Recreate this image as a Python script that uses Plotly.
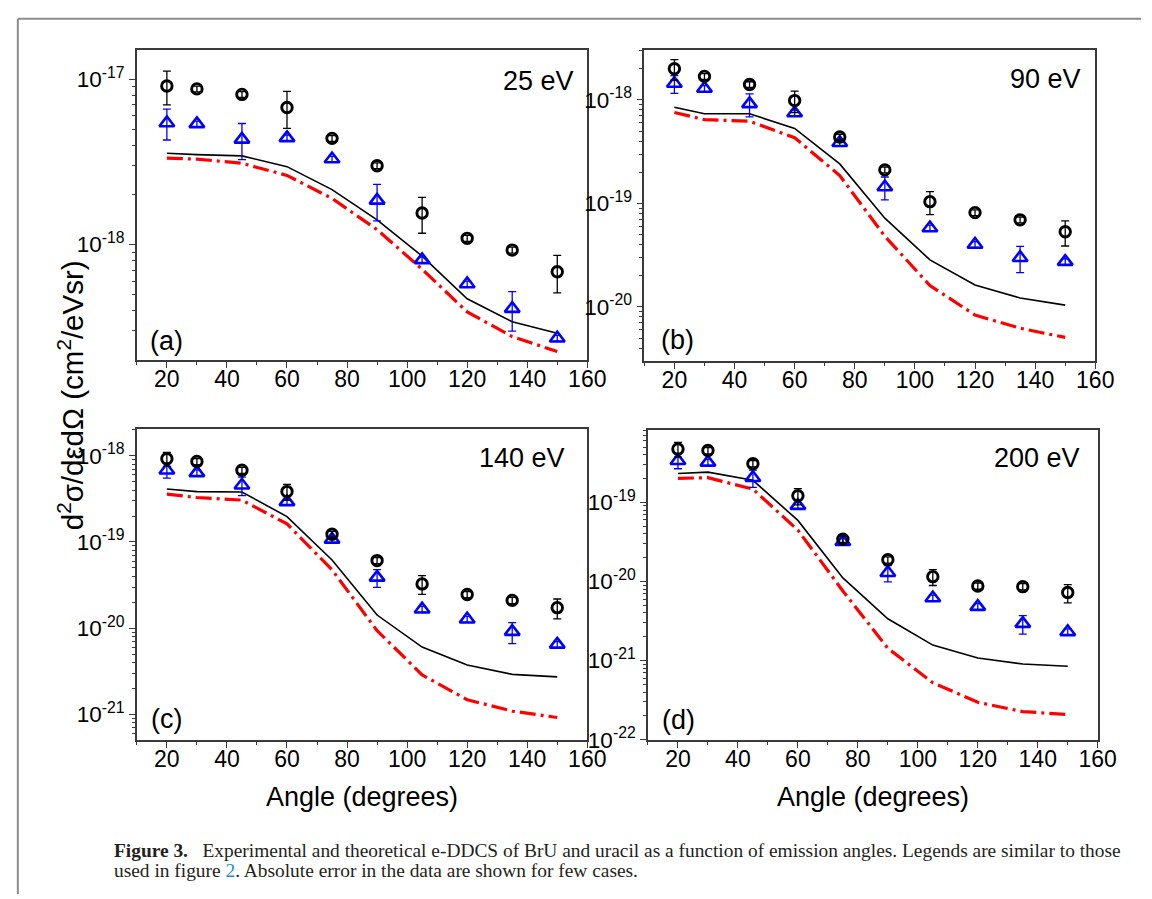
import numpy as np
import plotly.graph_objects as go

# ---------------- data ----------------
angles = [20, 30, 45, 60, 75, 90, 105, 120, 135, 150]
energies = ["25 eV", "90 eV", "140 eV", "200 eV"]
panel_tags = ["(a)", "(b)", "(c)", "(d)"]

# experiment, BrU (open circles) and uracil (open triangles), cm^2/eV sr
circ_25 = [9.1e-18, 8.75e-18, 8.1e-18, 6.75e-18, 4.39e-18, 3.0e-18, 1.55e-18, 1.09e-18, 9.25e-19, 6.84e-19]
circ_25_err = [2.1e-18, 3.5e-19, 3.3e-19, 1.7e-18, 1.8e-19, 1.2e-19, 3.8e-19, 4.5e-20, 3.8e-20, 1.75e-19]
tri_25 = [5.44e-18, 5.37e-18, 4.33e-18, 4.42e-18, 3.29e-18, 1.85e-18, 8.07e-19, 5.77e-19, 4.09e-19, 2.71e-19]
tri_25_err = [1.15e-18, 2.2e-19, 1.07e-18, 1.8e-19, 1.3e-19, 4.6e-19, 3.3e-20, 2.3e-20, 1.1e-19, 1.1e-20]

circ_90 = [2.0e-18, 1.69e-18, 1.41e-18, 9.86e-19, 4.38e-19, 2.11e-19, 1.04e-19, 8.15e-20, 6.94e-20, 5.33e-20]
circ_90_err = [4.5e-19, 1.1e-19, 9e-20, 2.3e-19, 2.8e-20, 1.4e-20, 2.6e-20, 5.3e-21, 4.5e-21, 1.45e-20]
tri_90 = [1.44e-18, 1.29e-18, 9.16e-19, 7.47e-19, 3.86e-19, 1.44e-19, 5.78e-20, 4.01e-20, 2.99e-20, 2.74e-20]
tri_90_err = [2.8e-19, 8.4e-20, 2.3e-19, 4.9e-20, 2.5e-20, 3.6e-20, 3.8e-21, 2.6e-21, 8.5e-21, 1.8e-21]

circ_140 = [9.24e-19, 8.6e-19, 6.79e-19, 3.84e-19, 1.23e-19, 6.08e-20, 3.26e-20, 2.46e-20, 2.1e-20, 1.73e-20]
circ_140_err = [1.7e-19, 6.9e-20, 5.4e-20, 8e-20, 9.8e-21, 4.9e-21, 8e-21, 2e-21, 1.7e-21, 4.5e-21]
tri_140 = [6.79e-19, 6.33e-19, 4.54e-19, 2.92e-19, 1.07e-19, 3.88e-20, 1.66e-20, 1.27e-20, 9.12e-21, 6.48e-21]
tri_140_err = [1.3e-19, 5.1e-20, 1.1e-19, 2.3e-20, 8.6e-21, 9e-21, 1.3e-21, 1e-21, 2.5e-21, 5.2e-22]

circ_200 = [4.73e-19, 4.52e-19, 3.08e-19, 1.21e-19, 3.43e-20, 1.88e-20, 1.15e-20, 8.77e-21, 8.6e-21, 7.25e-21]
circ_200_err = [1e-19, 4.1e-20, 2.8e-20, 2.8e-20, 3.1e-21, 1.7e-21, 2.6e-21, 7.9e-22, 7.7e-22, 1.9e-21]
tri_200 = [3.36e-19, 3.2e-19, 2.05e-19, 9.09e-20, 3.18e-20, 1.29e-20, 6.17e-21, 4.81e-21, 2.93e-21, 2.31e-21]
tri_200_err = [7e-20, 2.9e-20, 5e-20, 8.2e-21, 2.9e-21, 3e-21, 5.6e-22, 4.3e-22, 7.7e-22, 2.1e-22]

# theory: solid black and red dash-dot curves
solid_25 = [3.57e-18, 3.5e-18, 3.44e-18, 2.96e-18, 2.15e-18, 1.41e-18, 8.51e-19, 4.69e-19, 3.41e-19, 2.9e-19]
dashdot_25 = [3.33e-18, 3.29e-18, 3.1e-18, 2.62e-18, 1.9e-18, 1.23e-18, 7.09e-19, 3.91e-19, 2.77e-19, 2.25e-19]
solid_90 = [8.51e-19, 7.36e-19, 7.36e-19, 5.3e-19, 2.41e-19, 7.2e-20, 2.85e-20, 1.63e-20, 1.22e-20, 1.04e-20]
dashdot_90 = [7.57e-19, 6.45e-19, 6.22e-19, 4.32e-19, 1.86e-19, 4.82e-20, 1.61e-20, 8.34e-21, 6.22e-21, 5.07e-21]
solid_140 = [4.12e-19, 3.84e-19, 3.8e-19, 1.97e-19, 6.18e-20, 1.42e-20, 6.04e-21, 3.73e-21, 2.91e-21, 2.72e-21]
dashdot_140 = [3.58e-19, 3.28e-19, 3.06e-19, 1.62e-19, 4.75e-20, 9.37e-21, 2.87e-21, 1.48e-21, 1.09e-21, 9.2e-22]
solid_200 = [2.32e-19, 2.41e-19, 1.9e-19, 5.91e-20, 1.11e-20, 3.38e-21, 1.57e-21, 1.08e-21, 9.06e-22, 8.48e-22]
dashdot_200 = [2.01e-19, 2.05e-19, 1.47e-19, 4.45e-20, 7.6e-21, 1.43e-21, 5.26e-22, 2.97e-22, 2.27e-22, 2.08e-22]

x_tick_vals = [20, 40, 60, 80, 100, 120, 140, 160]
x_tick_text = ["20", "40", "60", "80", "100", "120", "140", "160"]
y_tick_vals = [[1e-18, 1e-17], [1e-20, 1e-19, 1e-18],
               [1e-21, 1e-20, 1e-19, 1e-18], [1e-22, 1e-21, 1e-20, 1e-19]]
y_tick_text = [["10<sup>-18</sup>", "10<sup>-17</sup>"],
               ["10<sup>-20</sup>", "10<sup>-19</sup>", "10<sup>-18</sup>"],
               ["10<sup>-21</sup>", "10<sup>-20</sup>", "10<sup>-19</sup>", "10<sup>-18</sup>"],
               ["10<sup>-22</sup>", "10<sup>-21</sup>", "10<sup>-20</sup>", "10<sup>-19</sup>"]]
x_label = "Angle (degrees)"
y_label = "d<sup>2</sup>σ/dεdΩ (cm<sup>2</sup>/eVsr)"

circles = [circ_25, circ_90, circ_140, circ_200]
circles_err = [circ_25_err, circ_90_err, circ_140_err, circ_200_err]
tris = [tri_25, tri_90, tri_140, tri_200]
tris_err = [tri_25_err, tri_90_err, tri_140_err, tri_200_err]
solids = [solid_25, solid_90, solid_140, solid_200]
dashdots = [dashdot_25, dashdot_90, dashdot_140, dashdot_200]

# ---------------- layout geometry (pixels of a 1152x899 page) ----------------
W, H = 1152, 899
def px(x):
    return x / W
def py(y):
    return 1 - y / H

boxes = [  # left, right, top, bottom in px
    (131, 589, 43, 357),
    (647, 1105.5, 43, 358),
    (131, 589, 427.3, 742.7),
    (650.7, 1108, 428.3, 742.7),
]
y_log_ranges = [(-18.698, -16.825), (-20.521, -17.521), (-21.297, -17.691), (-22.003, -18.087)]

FONT = "Liberation Sans, Arial, sans-serif"
AX = "#3a3a3a"

fig = go.Figure()

for i in range(4):
    sfx = "" if i == 0 else str(i + 1)
    xa, ya = "x" + sfx, "y" + sfx
    fig.add_trace(go.Scatter(x=angles, y=solids[i], mode="lines", xaxis=xa, yaxis=ya,
                             line=dict(color="black", width=1.6), showlegend=False))
    fig.add_trace(go.Scatter(x=angles, y=dashdots[i], mode="lines", xaxis=xa, yaxis=ya,
                             line=dict(color="#ff0000", width=3.2, dash="16px,5px,3px,5px"),
                             showlegend=False))
    fig.add_trace(go.Scatter(x=angles, y=tris[i], mode="markers", xaxis=xa, yaxis=ya,
                             marker=dict(symbol="triangle-up-open", size=13, color="#0000ff",
                                         line=dict(width=2.6, color="#0000ff")),
                             error_y=dict(type="data", array=tris_err[i], visible=True,
                                          color="#0000ff", thickness=1.3, width=4),
                             showlegend=False))
    fig.add_trace(go.Scatter(x=angles, y=circles[i], mode="markers", xaxis=xa, yaxis=ya,
                             marker=dict(symbol="circle-open", size=10.5, color="black",
                                         line=dict(width=2.9, color="black")),
                             error_y=dict(type="data", array=circles_err[i], visible=True,
                                          color="black", thickness=1.3, width=4),
                             showlegend=False))

    l, r, t, b = boxes[i]
    lo, hi = y_log_ranges[i]
    minor_y = [k * 10.0 ** d for d in range(int(np.floor(lo)) - 1, int(np.ceil(hi)) + 1)
               for k in range(2, 10) if lo <= np.log10(k * 10.0 ** d) <= hi]
    xkey = "xaxis" + sfx
    ykey = "yaxis" + sfx
    fig.layout[xkey] = dict(
        domain=[px(l), px(r)], anchor=ya, range=[10, 160],
        tickmode="array", tickvals=x_tick_vals, ticktext=x_tick_text,
        ticks="outside", ticklen=6, tickwidth=1.3, tickcolor=AX,
        ticklabelstandoff=-8,
        minor=dict(tickmode="array", tickvals=list(range(10, 161, 10)), ticks="outside",
                   ticklen=3.5, tickwidth=1.2, tickcolor=AX),
        showline=True, linecolor=AX, linewidth=1.6, mirror=True,
        showgrid=False, zeroline=False,
        tickfont=dict(family=FONT, size=23, color="black"),
    )
    fig.layout[ykey] = dict(
        domain=[py(b), py(t)], anchor=xa, type="log", range=[lo, hi],
        tickmode="array", tickvals=y_tick_vals[i], ticktext=y_tick_text[i],
        ticks="outside", ticklen=6, tickwidth=1.3, tickcolor=AX,
        minor=dict(tickmode="array", tickvals=minor_y, ticks="outside",
                   ticklen=3.5, tickwidth=1.2, tickcolor=AX),
        showline=True, linecolor=AX, linewidth=1.6, mirror=True,
        showgrid=False, zeroline=False,
        tickfont=dict(family=FONT, size=22.5, color="black"),
    )

annotations = []
# energy labels (right aligned) and panel tags
energy_pos = [(578, 74), (1093, 72), (568, 457), (1092, 457)]
tag_pos = [(142, 338), (662, 337), (143, 721), (663, 722)]
for i in range(4):
    ex, ey = energy_pos[i]
    annotations.append(dict(text=energies[i], x=px(ex), y=py(ey), xref="paper", yref="paper",
                            xanchor="right", yanchor="middle", showarrow=False,
                            font=dict(family=FONT, size=27, color="black")))
    tx, ty = tag_pos[i]
    annotations.append(dict(text=panel_tags[i], x=px(tx), y=py(ty), xref="paper", yref="paper",
                            xanchor="left", yanchor="middle", showarrow=False,
                            font=dict(family=FONT, size=27, color="black")))

# axis titles
for cx in (360, 879):
    annotations.append(dict(text=x_label, x=px(cx), y=py(801), xref="paper", yref="paper",
                            xanchor="center", yanchor="middle", showarrow=False,
                            font=dict(family=FONT, size=27, color="black")))
annotations.append(dict(text=y_label, x=px(63), y=py(393), xref="paper", yref="paper",
                        xanchor="center", yanchor="middle", textangle=-90, showarrow=False,
                        font=dict(family=FONT, size=29.5, color="black")))

# caption
CAP = "Liberation Serif, Times New Roman, serif"
cap1 = ("<b>Figure 3.</b>\u00a0\u00a0 Experimental and theoretical e-DDCS of BrU and uracil as a "
        "function of emission angles. Legends are similar to those")
cap2 = ("used in figure <span style='color:#1a8fd6'>2</span>. Absolute error in the data are "
        "shown for few cases.")
annotations.append(dict(text=cap1, x=px(106), y=py(855), xref="paper", yref="paper",
                        xanchor="left", yanchor="middle", showarrow=False,
                        font=dict(family=CAP, size=19.4, color="#231f20")))
annotations.append(dict(text=cap2, x=px(106), y=py(875), xref="paper", yref="paper",
                        xanchor="left", yanchor="middle", showarrow=False,
                        font=dict(family=CAP, size=19.4, color="#231f20")))

shapes = [
    dict(type="line", xref="paper", yref="paper", x0=px(10), x1=1, y0=py(11), y1=py(11),
         line=dict(color="#8c8c8c", width=2)),
    dict(type="line", xref="paper", yref="paper", x0=px(10), x1=px(10), y0=py(11), y1=0,
         line=dict(color="#8c8c8c", width=2)),
]

fig.update_layout(width=W, height=H, margin=dict(l=0, r=0, t=0, b=0),
                  paper_bgcolor="white", plot_bgcolor="white",
                  annotations=annotations, shapes=shapes, showlegend=False)

fig.write_html("out.html")
